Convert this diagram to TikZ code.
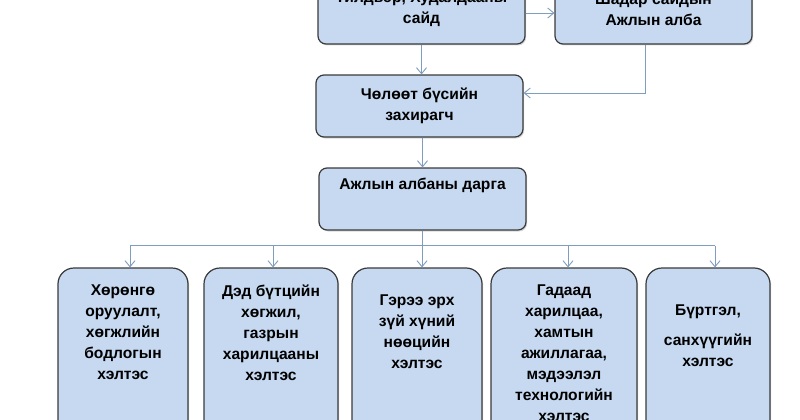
\documentclass[tikz,border=0pt]{standalone}
\usepackage{fontspec}
\setmainfont{Liberation Sans}
\usetikzlibrary{arrows.meta, positioning, shadows}
\definecolor{boxfill}{HTML}{C6D9F1}
\definecolor{boxline}{HTML}{3A3A3A}
\definecolor{linkcol}{HTML}{7F9DBE}

\begin{document}
\begin{tikzpicture}[x=1pt, y=-1pt,
    unit/.style={draw=boxline, fill=boxfill, line width=1.2pt, rounded corners=8pt,
      drop shadow={opacity=0.3, shadow xshift=1.2pt, shadow yshift=-1.5pt}},
    dept/.style={unit, rounded corners=16pt},
    lbl/.style={font=\fontsize{15.6}{21}\selectfont\bfseries, align=center, inner sep=0pt},
    link/.style={draw=linkcol, line width=0.9pt, -{Straight Barb[length=6pt, width=10pt]}},
    bar/.style={draw=linkcol, line width=0.9pt}]

    \useasboundingbox (0,0) rectangle (800,420);
    \clip (0,0) rectangle (800,420);

    % Top row: minister and deputy prime minister's office
    \node[unit, lbl, minimum width=207pt, minimum height=70pt] (sayd) at (421.5,9)
    {Үйлдвэр, Худалдааны\\сайд};
    \node[unit, lbl, minimum width=197pt, minimum height=70pt] (shadar) at (653.5,9)
    {Шадар сайдын\\Ажлын алба};

    % Free zone governor
    \node[unit, lbl, minimum width=207pt, minimum height=62pt] (zahiragch) at (419.5,106)
    {Чөлөөт бүсийн\\захирагч};

    % Head of office, text sits at the top of the box
    \node[unit, minimum width=207pt, minimum height=62pt] (darga) at (422.5,199) {};
    \node[lbl, below=10pt of darga.north] (dargaTxt) {Ажлын албаны дарга};

    % Departments
    \node[dept, minimum width=130pt, minimum height=182pt] (hel1) at (123,359) {};
    \node[dept, minimum width=134pt, minimum height=182pt] (hel2) at (271,359) {};
    \node[dept, minimum width=130pt, minimum height=182pt] (hel3) at (417,359) {};
    \node[dept, minimum width=146pt, minimum height=182pt] (hel4) at (564,359) {};
    \node[dept, minimum width=124pt, minimum height=182pt] (hel5) at (708,359) {};

    \node[lbl, below=17pt of hel1.north] (txt1) {Хөрөнгө\\оруулалт,\\хөгжлийн\\бодлогын\\хэлтэс};
    \node[lbl, below=17pt of hel2.north] (txt2) {Дэд бүтцийн\\хөгжил,\\газрын\\харилцааны\\хэлтэс};
    \node[lbl, below=27pt of hel3.north] (txt3) {Гэрээ эрх\\зүй хүний\\нөөцийн\\хэлтэс};
    \node[lbl, below=17pt of hel4.north] (txt4) {Гадаад\\харилцаа,\\хамтын\\ажиллагаа,\\мэдээлэл\\технологийн\\хэлтэс};
    \node[lbl, below=37pt of hel5.north] (txt5) {Бүртгэл,\\[9pt]санхүүгийн\\хэлтэс};

    % Connectors
    \draw[link] ([yshift=-4pt]sayd.east) -- ([yshift=-4pt]shadar.west);
    \draw[link] (sayd.south) -- (sayd.south |- zahiragch.north);
    \draw[link] ([xshift=-8.5pt]shadar.south) |- ([yshift=13pt]zahiragch.east);
    \draw[link] (darga.north |- zahiragch.south) -- (darga.north);

    % Bus down to the departments
    \draw[bar] (darga.south) -- ++(0,15) coordinate (bus);
    \draw[bar] (bus -| 130,0) -- (bus -| 715,0);
    \foreach \h/\x in {hel1/130, hel2/273, hel3/422, hel4/568, hel5/715}
        \draw[link] (bus -| \x,0) -- (\h.north -| \x,0);
\end{tikzpicture}
\end{document}
